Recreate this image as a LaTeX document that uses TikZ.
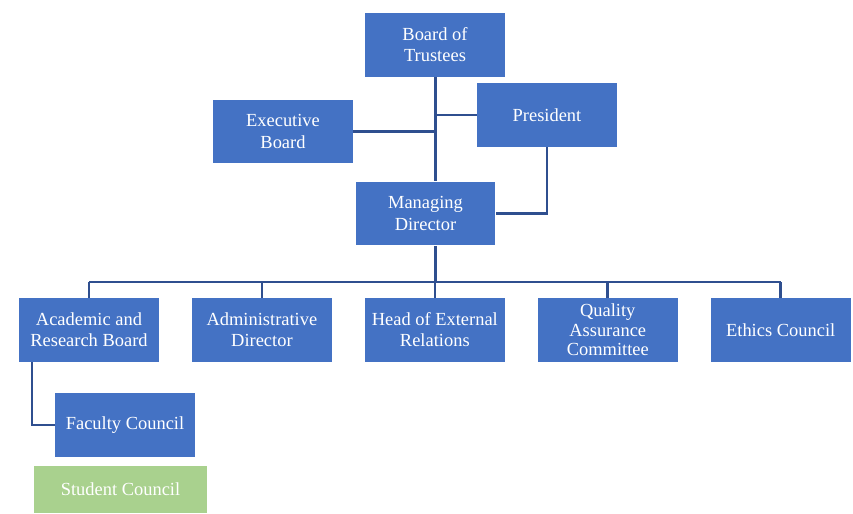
\documentclass[tikz,border=0pt]{standalone}
\usepackage{fontspec}
\setmainfont{Liberation Serif}
\usetikzlibrary{positioning}

\definecolor{boxblue}{HTML}{4472C4}
\definecolor{linkblue}{HTML}{2F4F8F}
\definecolor{boxgreen}{HTML}{A9D18E}

\begin{document}
\begin{tikzpicture}[x=0.02cm, y=-0.02cm,
unit/.style={rectangle,fill=boxblue,text=white,align=center,
  minimum width=2.8cm,minimum height=1.28cm,inner sep=1pt,
  font=\fontsize{10.5}{12}\selectfont},
link/.style={draw=linkblue,line width=1.5pt}]

\useasboundingbox (0,0) rectangle (853,514);

\node[unit] (bt) at (435,45) {Board of\\Trustees};
\node[unit] (eb) at (283,131.5) {Executive\\Board};
\node[unit] (pr) at (547,115) {President};
\node[unit] (md) at (425.5,213.5) {Managing\\Director};

\node[unit] (arb) at (89,330) {Academic and\\Research Board};
\node[unit] (ad) [right=0.645cm of arb] {Administrative\\Director};
\node[unit] (her) [right=0.645cm of ad] {Head of External\\Relations};
\node[unit,font=\fontsize{10.5}{11}\selectfont] (qac) [right=0.645cm of her]
  {Quality\\Assurance\\Committee};
\node[unit] (ec) [right=0.645cm of qac] {Ethics Council};

\node[unit] (fc) at (125,425) {Faculty Council};
\node[unit,fill=boxgreen,minimum width=3.46cm,minimum height=0.94cm]
  (sc) at (120.5,489.5) {Student Council};

\coordinate (bus) at (435.7,282);

\draw[link] (bt.south -| bus) -- (md.north -| bus);
\draw[link] (eb.east) -- (eb.east -| bus);
\draw[link] (pr.west) -- (pr.west -| bus);
\draw[link] (pr.south) |- (md.east);

\draw[link] (md.south -| bus) -- (bus);
\draw[link] (bus -| arb.north) -- (bus -| ec.north);
\foreach \x in {arb,ad,her,qac,ec}
\draw[link] (bus -| \x.north) -- (\x.north);

\draw[link] ([xshift=-1.14cm]arb.south) |- (fc.west);
\end{tikzpicture}
\end{document}
